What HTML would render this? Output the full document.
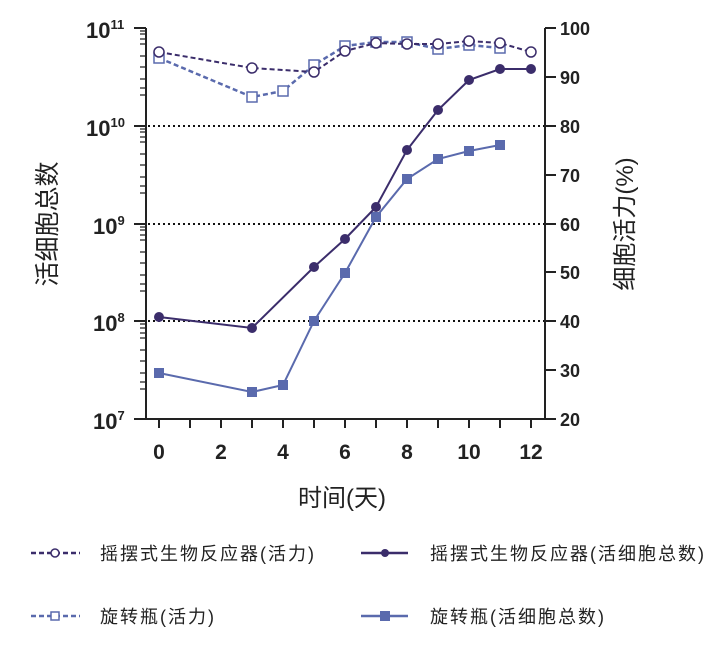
<!DOCTYPE html>
<html><head><meta charset="utf-8"><style>
body{margin:0;background:#fff;}
svg text{font-family:"Liberation Sans","Noto Sans CJK SC",sans-serif;}
</style></head><body>
<svg width="728" height="650" viewBox="0 0 728 650" xmlns="http://www.w3.org/2000/svg">
<rect width="728" height="650" fill="#fff"/>
<g stroke="#111" stroke-width="2" stroke-dasharray="2,3">
<line x1="148" y1="126" x2="544" y2="126"/>
<line x1="148" y1="224" x2="544" y2="224"/>
<line x1="148" y1="321" x2="544" y2="321"/>
</g>
<g stroke="#222" stroke-width="2" fill="none">
<line x1="146" y1="28" x2="146" y2="419"/>
<line x1="146" y1="419" x2="545" y2="419"/>
<line x1="545" y1="28" x2="545" y2="419"/>
<line x1="134" y1="28" x2="146" y2="28"/>
<line x1="134" y1="126" x2="146" y2="126"/>
<line x1="134" y1="224" x2="146" y2="224"/>
<line x1="134" y1="321" x2="146" y2="321"/>
<line x1="134" y1="419" x2="146" y2="419"/>
</g>
<g stroke="#222" stroke-width="1.3">
<path d="M140 389h6M140 382h6M140 373h6M140 361h6M140 350h6M140 338h6M140 333h6M140 328h6M140 324h6
M140 291h6M140 284h6M140 275h6M140 263h6M140 252h6M140 240h6M140 235h6M140 230h6M140 227h6
M140 193h6M140 186h6M140 177h6M140 165h6M140 154h6M140 142h6M140 137h6M140 132h6M140 129h6
M140 95h6M140 88h6M140 79h6M140 67h6M140 56h6M140 44h6M140 39h6M140 34h6M140 31h6"/>
</g>
<g stroke="#222" stroke-width="2">
<line x1="545" y1="28" x2="556" y2="28"/><line x1="545" y1="77" x2="556" y2="77"/>
<line x1="545" y1="126" x2="556" y2="126"/><line x1="545" y1="175" x2="556" y2="175"/>
<line x1="545" y1="224" x2="556" y2="224"/><line x1="545" y1="272" x2="556" y2="272"/>
<line x1="545" y1="321" x2="556" y2="321"/><line x1="545" y1="370" x2="556" y2="370"/>
<line x1="545" y1="419" x2="556" y2="419"/>
</g>
<g stroke="#222" stroke-width="2">
<line x1="159" y1="419" x2="159" y2="428"/><line x1="190" y1="419" x2="190" y2="428"/>
<line x1="221" y1="419" x2="221" y2="428"/><line x1="252" y1="419" x2="252" y2="428"/>
<line x1="283" y1="419" x2="283" y2="428"/><line x1="314" y1="419" x2="314" y2="428"/>
<line x1="345" y1="419" x2="345" y2="428"/><line x1="376" y1="419" x2="376" y2="428"/>
<line x1="407" y1="419" x2="407" y2="428"/><line x1="438" y1="419" x2="438" y2="428"/>
<line x1="469" y1="419" x2="469" y2="428"/><line x1="500" y1="419" x2="500" y2="428"/>
<line x1="531" y1="419" x2="531" y2="428"/>
</g>
<g font-weight="bold" font-size="21" fill="#222">
<g text-anchor="middle">
<text x="159" y="459">0</text><text x="221" y="459">2</text><text x="283" y="459">4</text>
<text x="345" y="459">6</text><text x="407" y="459">8</text><text x="469" y="459">10</text><text x="531" y="459">12</text>
</g>
<g font-size="18">
<text x="560" y="35">100</text><text x="560" y="84">90</text><text x="560" y="133">80</text>
<text x="560" y="182">70</text><text x="560" y="231">60</text><text x="560" y="279">50</text>
<text x="560" y="328">40</text><text x="560" y="377">30</text><text x="560" y="426">20</text>
</g>
<g font-size="22">
<text x="86" y="38">10<tspan font-size="13" dy="-9">11</tspan></text>
<text x="86" y="136">10<tspan font-size="13" dy="-9">10</tspan></text>
<text x="93" y="234">10<tspan font-size="13" dy="-9">9</tspan></text>
<text x="93" y="331">10<tspan font-size="13" dy="-9">8</tspan></text>
<text x="93" y="429">10<tspan font-size="13" dy="-9">7</tspan></text>
</g>
</g>
<text x="342" y="506" text-anchor="middle" font-size="24" fill="#222">时间(天)</text>
<text transform="translate(56,224) rotate(-90)" text-anchor="middle" font-size="25" fill="#222">活细胞总数</text>
<text transform="translate(633,224) rotate(-90)" text-anchor="middle" font-size="24" fill="#222">细胞活力(%)</text>
<polyline fill="none" stroke="#5a6aad" stroke-width="2" points="159,373 252,392 283,385 314,321 345,273 376,217 407,179 438,159 469,151 500,145"/>
<g fill="#5a6aad">
<rect x="154" y="368" width="10" height="10"/><rect x="247" y="387" width="10" height="10"/><rect x="278" y="380" width="10" height="10"/>
<rect x="309" y="316" width="10" height="10"/><rect x="340" y="268" width="10" height="10"/><rect x="371" y="212" width="10" height="10"/>
<rect x="402" y="174" width="10" height="10"/><rect x="433" y="154" width="10" height="10"/><rect x="464" y="146" width="10" height="10"/><rect x="495" y="140" width="10" height="10"/>
</g>
<polyline fill="none" stroke="#3b2d6b" stroke-width="2" points="159,317 252,328 314,267 345,239 376,207 407,150 438,110 469,80 500,69 531,69"/>
<g fill="#3b2d6b">
<circle cx="159" cy="317" r="5"/><circle cx="252" cy="328" r="5"/><circle cx="314" cy="267" r="5"/><circle cx="345" cy="239" r="5"/>
<circle cx="376" cy="207" r="5"/><circle cx="407" cy="150" r="5"/><circle cx="438" cy="110" r="5"/><circle cx="469" cy="80" r="5"/>
<circle cx="500" cy="69" r="5"/><circle cx="531" cy="69" r="5"/>
</g>
<polyline fill="none" stroke="#5a6aad" stroke-width="2.5" stroke-dasharray="5,3" points="159,58 252,97 283,91 314,65 345,46 376,42 407,42 438,49 469,45 500,48"/>
<g fill="#fff" stroke="#5a6aad" stroke-width="1.5">
<rect x="154" y="53" width="10" height="10"/><rect x="247" y="92" width="10" height="10"/><rect x="278" y="86" width="10" height="10"/>
<rect x="309" y="60" width="10" height="10"/><rect x="340" y="41" width="10" height="10"/><rect x="371" y="37" width="10" height="10"/>
<rect x="402" y="37" width="10" height="10"/><rect x="433" y="44" width="10" height="10"/><rect x="464" y="40" width="10" height="10"/><rect x="495" y="43" width="10" height="10"/>
</g>
<polyline fill="none" stroke="#3b2d6b" stroke-width="2" stroke-dasharray="5,3" points="159,52 252,68 314,72 345,51 376,43 407,44 438,44 469,41 500,43 531,52"/>
<g fill="#fff" stroke="#3b2d6b" stroke-width="1.5">
<circle cx="159" cy="52" r="5"/><circle cx="252" cy="68" r="5"/><circle cx="314" cy="72" r="5"/><circle cx="345" cy="51" r="5"/>
<circle cx="376" cy="43" r="5"/><circle cx="407" cy="44" r="5"/><circle cx="438" cy="44" r="5"/><circle cx="469" cy="41" r="5"/>
<circle cx="500" cy="43" r="5"/><circle cx="531" cy="52" r="5"/>
</g>
<g font-size="18" fill="#222" letter-spacing="2">
<line x1="31" y1="553" x2="80" y2="553" stroke="#3b2d6b" stroke-width="2.5" stroke-dasharray="5,3"/>
<circle cx="55" cy="553" r="4" fill="#fff" stroke="#3b2d6b" stroke-width="1.5"/>
<text x="100" y="560">摇摆式生物反应器(活力)</text>
<line x1="361" y1="553" x2="408" y2="553" stroke="#3b2d6b" stroke-width="2.5"/>
<circle cx="385" cy="553" r="4" fill="#3b2d6b"/>
<text x="430" y="560">摇摆式生物反应器(活细胞总数)</text>
<line x1="31" y1="616" x2="80" y2="616" stroke="#5a6aad" stroke-width="2.5" stroke-dasharray="5,3"/>
<rect x="51" y="612" width="8" height="8" fill="#fff" stroke="#5a6aad" stroke-width="1.5"/>
<text x="100" y="623">旋转瓶(活力)</text>
<line x1="361" y1="616" x2="408" y2="616" stroke="#5a6aad" stroke-width="2.5"/>
<rect x="380" y="611" width="10" height="10" fill="#5a6aad"/>
<text x="430" y="623">旋转瓶(活细胞总数)</text>
</g>
</svg>
</body></html>
